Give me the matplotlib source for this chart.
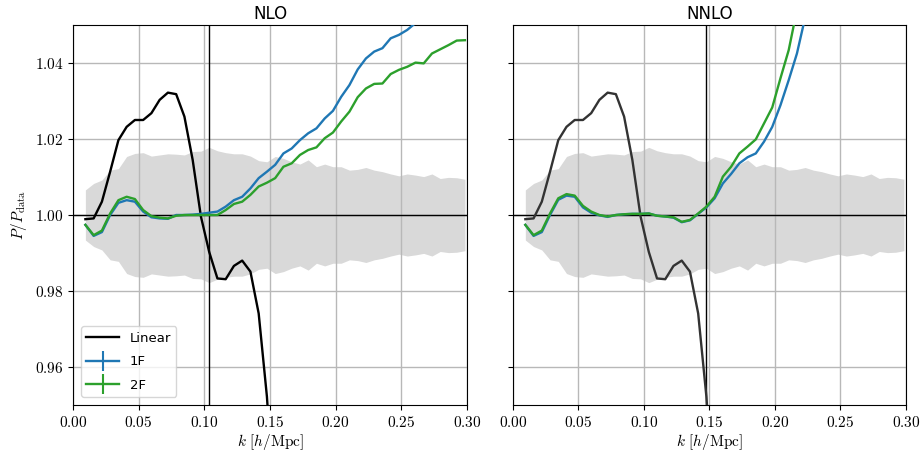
import matplotlib
matplotlib.use("Agg")
import matplotlib.pyplot as plt
from matplotlib.lines import Line2D
from matplotlib.ticker import FuncFormatter

plt.rcParams['mathtext.fontset'] = 'cm'
plt.rcParams['font.family'] = ['DejaVu Sans']

k = [0.00942, 0.01571, 0.02199, 0.02827, 0.03456, 0.04084, 0.04712, 0.05341,
     0.05969, 0.06597, 0.07226, 0.07854, 0.08482, 0.09111, 0.09739, 0.10367,
     0.10996, 0.11624, 0.12252, 0.12881, 0.13509, 0.14137, 0.14765, 0.15394,
     0.16022, 0.16650, 0.17279, 0.17907, 0.18535, 0.19164, 0.19792, 0.20420,
     0.21049, 0.21677, 0.22305, 0.22934, 0.23562, 0.24190, 0.24819, 0.25447,
     0.26075, 0.26704, 0.27332, 0.27960, 0.28588, 0.29217, 0.29845]

sigma = [0.0066, 0.0083, 0.0092, 0.0118, 0.0122, 0.0154, 0.0162, 0.0164,
         0.0155, 0.0158, 0.0161, 0.0160, 0.0158, 0.0167, 0.0168, 0.0178,
         0.0169, 0.0164, 0.0161, 0.0161, 0.0155, 0.0143, 0.0140, 0.0154,
         0.0149, 0.0140, 0.0134, 0.0145, 0.0127, 0.0134, 0.0127, 0.0127,
         0.0118, 0.0120, 0.0125, 0.0118, 0.0114, 0.0108, 0.0103, 0.0108,
         0.0105, 0.0101, 0.0108, 0.0096, 0.0099, 0.0098, 0.0094]

linear = [0.9989, 0.9991, 1.0035, 1.0114, 1.0197, 1.0232, 1.0250, 1.0250,
          1.0268, 1.0303, 1.0322, 1.0318, 1.0259, 1.0145, 0.9996, 0.9903,
          0.9833, 0.9831, 0.9866, 0.9880, 0.9851, 0.9741, 0.9522, 0.9200]

nlo_1f = [0.9974, 0.9945, 0.9955, 1.0000, 1.0032, 1.0039, 1.0035, 1.0009,
          0.9994, 0.9991, 0.9990, 1.0000, 1.0000, 1.0001, 1.0003, 1.0006,
          1.0009, 1.0022, 1.0039, 1.0048, 1.0070, 1.0097, 1.0114, 1.0132,
          1.0162, 1.0175, 1.0197, 1.0215, 1.0228, 1.0254, 1.0274, 1.0311,
          1.0342, 1.0383, 1.0412, 1.0430, 1.0439, 1.0465, 1.0474, 1.0487,
          1.0505, 1.0520, 1.0540]

nlo_2f = [0.9974, 0.9947, 0.9959, 1.0004, 1.0039, 1.0048, 1.0042, 1.0013,
          0.9997, 0.9993, 0.9991, 0.9998, 1.0000, 1.0000, 1.0000, 1.0000,
          1.0000, 1.0013, 1.0029, 1.0035, 1.0053, 1.0075, 1.0085, 1.0097,
          1.0127, 1.0136, 1.0158, 1.0171, 1.0178, 1.0202, 1.0217, 1.0246,
          1.0272, 1.0310, 1.0333, 1.0345, 1.0346, 1.0371, 1.0382, 1.0390,
          1.0401, 1.0399, 1.0425, 1.0436, 1.0447, 1.0459, 1.0460]

nnlo_1f = [0.9974, 0.9945, 0.9955, 1.0000, 1.0040, 1.0051, 1.0048, 1.0020,
           1.0006, 0.9999, 0.9995, 1.0000, 1.0002, 1.0003, 1.0003, 1.0004,
           0.9998, 0.9996, 0.9993, 0.9981, 0.9986, 1.0003, 1.0020, 1.0044,
           1.0083, 1.0108, 1.0136, 1.0152, 1.0162, 1.0193, 1.0232, 1.0289,
           1.0355, 1.0425, 1.0520, 1.0620]

nnlo_2f = [0.9974, 0.9947, 0.9959, 1.0004, 1.0044, 1.0055, 1.0051, 1.0024,
           1.0009, 1.0000, 0.9996, 1.0000, 1.0002, 1.0003, 1.0003, 1.0004,
           0.9998, 0.9996, 0.9994, 0.9982, 0.9987, 1.0004, 1.0022, 1.0048,
           1.0101, 1.0127, 1.0162, 1.0180, 1.0199, 1.0241, 1.0283, 1.0360,
           1.0434, 1.0540, 1.0650]

kmax_nlo = 0.10367
kmax_nnlo = 0.14765

titles = ["NLO", "NNLO"]
xticks = [0.00, 0.05, 0.10, 0.15, 0.20, 0.25, 0.30]
yticks = [0.96, 0.98, 1.00, 1.02, 1.04]

blue = '#1f77b4'
green = '#2ca02c'

fig = plt.figure(figsize=(9.22, 4.57), dpi=100)
ax1 = fig.add_axes([0.0792, 0.1138, 0.4273, 0.8315])
ax2 = fig.add_axes([0.5564, 0.1138, 0.4262, 0.8315], sharey=ax1)

fmt = FuncFormatter(lambda v, p: f"${v:.2f}$")

panels = [
    (ax1, nlo_1f, nlo_2f, kmax_nlo, 'k'),
    (ax2, nnlo_1f, nnlo_2f, kmax_nnlo, '0.2'),
]
for i, (ax, s1, s2, kmax, lc) in enumerate(panels):
    lo = [1 - s for s in sigma]
    hi = [1 + s for s in sigma]
    ax.fill_between(k, lo, hi, color='#d9d9d9', lw=0, zorder=1)
    ax.grid(True, color='#b8b8b8', lw=1.0, zorder=1.5)
    ax.axhline(1.0, color='k', lw=1.0, zorder=2)
    ax.axvline(kmax, color='k', lw=1.0, zorder=2)
    ax.plot(k[:len(linear)], linear, color=lc, lw=1.7, zorder=3)
    ax.plot(k[:len(s1)], s1, color=blue, lw=1.7, zorder=4)
    ax.plot(k[:len(s2)], s2, color=green, lw=1.7, zorder=5)
    ax.set_xlim(0, 0.30)
    ax.set_ylim(0.95, 1.05)
    ax.set_xticks(xticks)
    ax.set_yticks(yticks)
    ax.xaxis.set_major_formatter(fmt)
    ax.yaxis.set_major_formatter(fmt)
    ax.tick_params(labelsize=11)
    ax.set_title(titles[i], fontsize=12, pad=4)
    ax.set_xlabel(r"$k\ [h/\mathrm{Mpc}]$", fontsize=11, labelpad=2)

ax1.set_ylabel(r"$P/P_{\rm data}$", fontsize=11)
ax2.tick_params(labelleft=False)

handles = [
    Line2D([], [], color='k', lw=1.7),
    Line2D([], [], color=blue, lw=1.7, marker='|', markersize=14, markeredgewidth=1.5),
    Line2D([], [], color=green, lw=1.7, marker='|', markersize=14, markeredgewidth=1.5),
]
ax1.legend(handles, ["Linear", "1F", "2F"], loc='lower left', fontsize=9.5,
           framealpha=0.8, handlelength=2.5, labelspacing=0.8,
           borderaxespad=0.6)

fig.savefig("out.png", dpi=100)
